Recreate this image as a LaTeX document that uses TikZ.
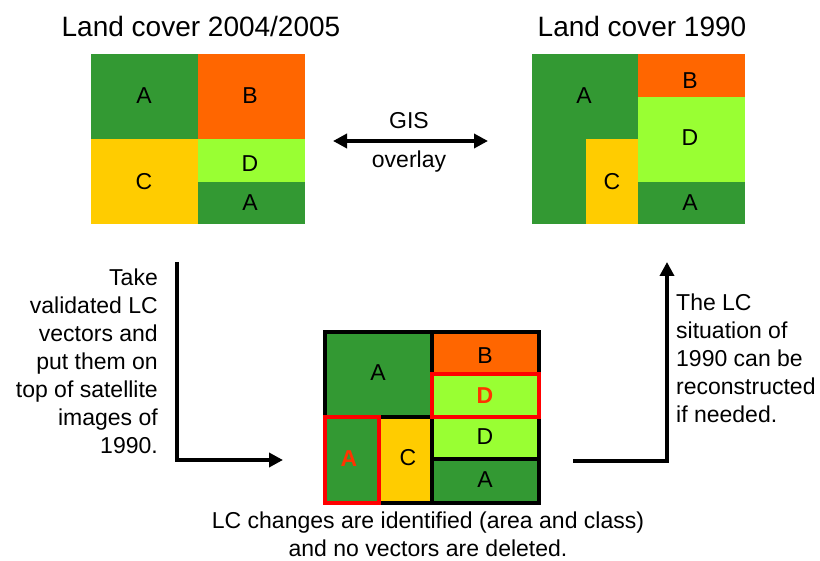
\documentclass[tikz,border=0pt]{standalone}
\usepackage{fontspec}
\setmainfont{Liberation Sans}
\usetikzlibrary{arrows.meta}
\definecolor{dg}{HTML}{339933}
\definecolor{og}{HTML}{FF6600}
\definecolor{yl}{HTML}{FFCC00}
\definecolor{lg}{HTML}{99FF33}
\definecolor{rd}{HTML}{FF0000}
\definecolor{rt}{HTML}{FF3300}
\begin{document}
\begin{tikzpicture}[x=1pt,y=-1pt,
  lbl/.style={font=\fontsize{23}{27}\selectfont, inner sep=0pt},
  redlbl/.style={font=\fontsize{23}{27}\selectfont\bfseries, text=rt, inner sep=0pt},
  txt/.style={font=\fontsize{23}{28}\selectfont, inner sep=0pt},
  ttl/.style={font=\fontsize{28}{34}\selectfont, inner sep=0pt},
  cell/.style={draw=black, line width=3.2pt},
  redbox/.style={draw=rd, line width=3.2pt},
  conn/.style={line width=3.5pt, -{Triangle[length=14pt,width=14pt]}},
  dconn/.style={line width=3.5pt, {Triangle[length=14pt,width=14pt]}-{Triangle[length=14pt,width=14pt]}}
]
\useasboundingbox[fill=white] (0,0) rectangle (820,561);

% titles
\node[ttl] (t1) at (201,26) {Land cover 2004/2005};
\node[ttl] (t2) at (642,26) {Land cover 1990};

% top-left grid (2004/2005)
\fill[dg] (91,54) rectangle (198,139);
\fill[og] (198,54) rectangle (305,139);
\fill[yl] (91,139) rectangle (198,224);
\fill[lg] (198,139) rectangle (305,182);
\fill[dg] (198,182) rectangle (305,224);
\node[lbl] (la1) at (144,96) {A};
\node[lbl] (lb1) at (250,96) {B};
\node[lbl] (lc1) at (144,182) {C};
\node[lbl] (ld1) at (250,164) {D};
\node[lbl] (la2) at (250,203) {A};

% top-right grid (1990)
\fill[dg] (532,54) rectangle (638,139);
\fill[dg] (532,139) rectangle (586,224);
\fill[yl] (586,139) rectangle (638,224);
\fill[og] (638,54) rectangle (745,97);
\fill[lg] (638,97) rectangle (745,182);
\fill[dg] (638,182) rectangle (745,224);
\node[lbl] (ra1) at (584,96) {A};
\node[lbl] (rb1) at (690,81) {B};
\node[lbl] (rd1) at (690,138) {D};
\node[lbl] (rc1) at (612,182) {C};
\node[lbl] (ra2) at (690,203) {A};

% GIS overlay arrow
\coordinate (gl) at (333,141);
\coordinate (gr) at (488,141);
\draw[dconn] (gl) -- (gr);
\node[txt] (gis) at (409,121) {GIS};
\node[txt] (ovl) at (409,162) {overlay};

% bottom grid
\filldraw[cell, fill=dg] (325,332) rectangle (432,417);
\filldraw[cell, fill=og] (432,332) rectangle (539,374);
\filldraw[cell, fill=lg] (432,374) rectangle (539,417);
\filldraw[cell, fill=lg] (432,417) rectangle (539,459);
\filldraw[cell, fill=dg] (432,459) rectangle (539,503);
\filldraw[cell, fill=dg] (325,417) rectangle (379,503);
\filldraw[cell, fill=yl] (379,417) rectangle (432,503);
\draw[redbox] (432,374) rectangle (539,417);
\draw[redbox] (325,417) rectangle (379,503);
\node[lbl] (ba1) at (378,373) {A};
\node[lbl] (bb1) at (485,356) {B};
\node[redlbl] (bd1) at (485,396) {D};
\node[lbl] (bd2) at (485,437) {D};
\node[lbl] (ba2) at (485,480) {A};
\node[redlbl] (ba3) at (349,459) {A};
\node[lbl] (bc1) at (408,458) {C};

% left text and arrow
\node[txt, align=right, anchor=east] (ltxt) at (158,361)
  {Take\\validated LC\\vectors and\\put them on\\top of satellite\\images of\\1990.};
\coordinate (ls) at (177,262);
\coordinate (lc) at (177,460);
\coordinate (le) at (283,460);
\draw[conn] (ls) -- (lc) -- (le);

% right text and arrow
\node[txt, align=left, anchor=west] (rtxt) at (676,358)
  {The LC\\situation of\\1990 can be\\reconstructed\\if needed.};
\coordinate (rs) at (573,461);
\coordinate (rc) at (667,461);
\coordinate (re) at (667,262);
\draw[conn] (rs) -- (rc) -- (re);

% caption
\node[txt, align=center] (cap) at (428,534)
  {LC changes are identified (area and class)\\and no vectors are deleted.};
\end{tikzpicture}
\end{document}
